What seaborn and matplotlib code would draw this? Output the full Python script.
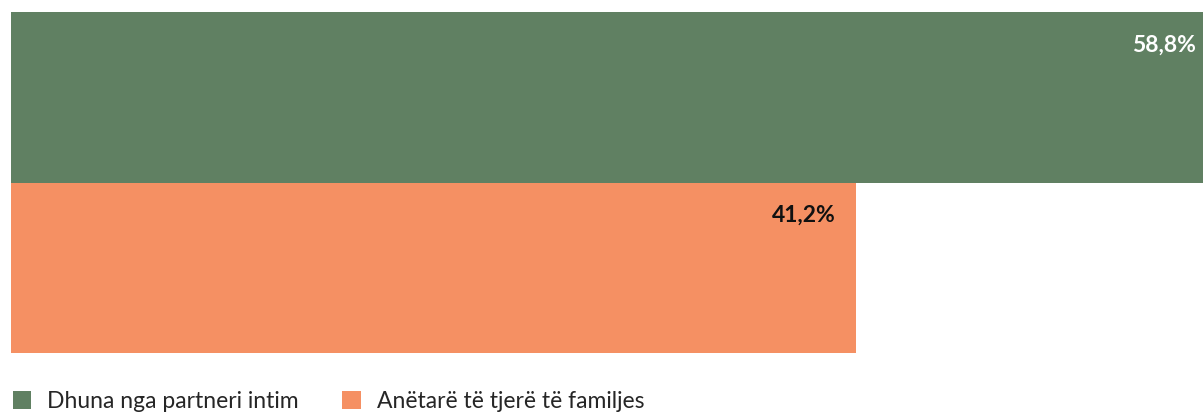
import seaborn as sns
import matplotlib.pyplot as plt
import pandas as pd
from matplotlib.patches import Patch

categories = ["Dhuna nga partneri intim", "Anëtarë të tjerë të familjes"]
values = [58.8, 41.2]
labels = ["58,8%", "41,2%"]
colors = ["#608062", "#F59063"]
label_colors = ["white", "#111111"]

df = pd.DataFrame({"category": categories, "value": values})

sns.set_style("white")
plt.rcParams["font.family"] = ["Lato", "DejaVu Sans"]

fig = plt.figure(figsize=(12.03, 4.12), dpi=100)
ax = fig.add_axes([11 / 1203, 1 - 353 / 412, 1 - 11 / 1203, 341 / 412])

sns.barplot(
    data=df, x="value", y="category", hue="category",
    palette=colors, orient="h", width=1.0, ax=ax, legend=False,
    saturation=1, linewidth=0,
)
ax.set_xlim(0, 58.15)
ax.set_ylim(1.5, -0.5)
ax.axis("off")

for i, (v, lab) in enumerate(zip(values, labels)):
    ax.annotate(
        lab, xy=(v, i - 0.5), xytext=(-20, -33), textcoords="offset pixels",
        ha="right", va="center", fontsize=16.5, fontweight="bold",
        color=label_colors[i], annotation_clip=False,
    )

handles = [Patch(facecolor=c, edgecolor="none") for c in colors]
fig.legend(
    handles, categories, loc="lower left", bbox_to_anchor=(0.003, -0.022),
    ncol=2, frameon=False, fontsize=16.5, handlelength=0.8, handleheight=0.8,
    handletextpad=0.7, columnspacing=1.9, borderaxespad=0,
)

fig.savefig("out.png", dpi=100)
